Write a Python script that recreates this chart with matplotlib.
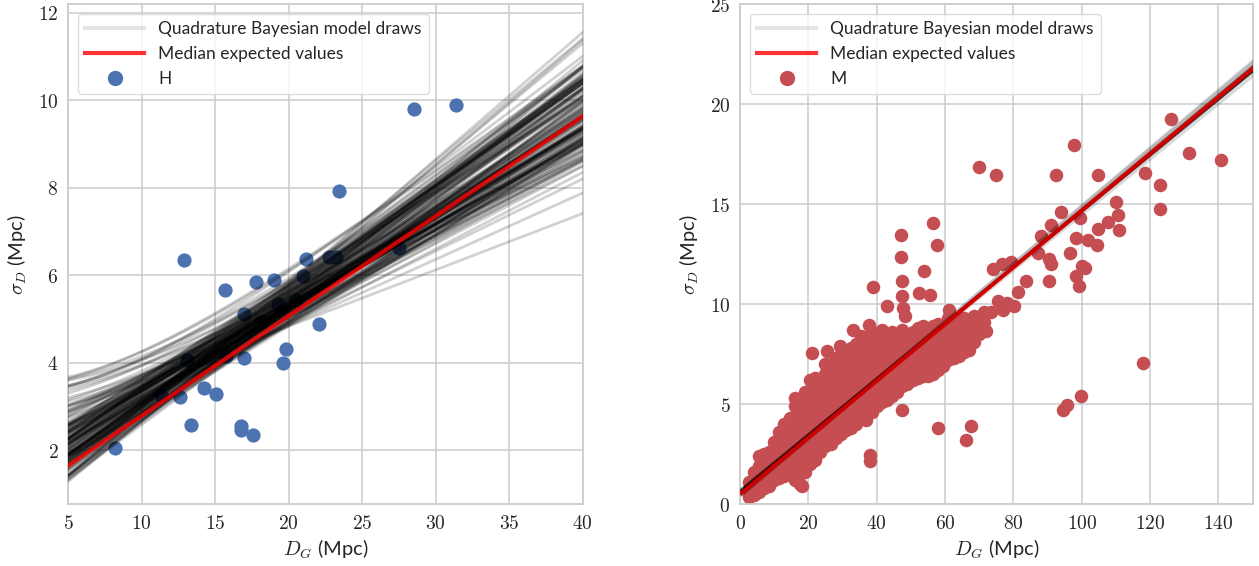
import numpy as np
import matplotlib
matplotlib.use("Agg")
import matplotlib.pyplot as plt
from matplotlib.ticker import FuncFormatter, MultipleLocator
from matplotlib.lines import Line2D

# ---------------- data: left panel (H) ----------------
h_dg = [8.2, 12.9, 13.1, 11.3, 12.6, 13.35, 14.25, 15.07, 15.7, 15.75, 16.75, 16.75,
        17.0, 17.0, 17.55, 17.8, 18.15, 19.0, 19.27, 19.6, 19.85, 20.5, 20.96, 21.2,
        22.1, 22.75, 23.25, 23.45, 27.5, 28.55, 31.4]
h_sigma = [2.05, 6.34, 4.05, 3.25, 3.22, 2.58, 3.42, 3.29, 5.65, 4.16, 2.56, 2.46,
           4.10, 5.12, 2.35, 5.85, 4.93, 5.88, 5.33, 3.99, 4.32, 5.44, 5.98, 6.38,
           4.89, 6.42, 6.41, 7.92, 6.63, 9.81, 9.90]

# model draws (left): sigma = sqrt(floor^2 + (level15 + slope*(D-15))^2)
h_draw_floor = ([0.0] * 133 +
                [3.4, 3.2, 3.0, 2.8, 3.5, 2.6, 2.4, 3.3, 2.2, 2.9, 3.1, 2.0, 2.7, 3.45,
                 3.3, 2.5, 3.0, 2.2, 3.45, 2.8, 2.3, 3.2])
h_draw_level15 = [4.13, 4.33, 3.87, 4.57, 4.07, 4.27, 4.41, 4.01, 4.17, 4.37, 3.93, 4.53, 4.25,
                  4.09, 4.31, 3.81, 4.67, 4.19, 4.03, 4.45, 4.15, 4.35, 3.89, 4.61, 4.23, 3.99,
                  4.39, 4.11, 4.29, 3.95, 4.49, 4.21, 4.05, 4.43, 4.17, 4.33, 3.85, 4.73, 4.27,
                  4.01, 4.37, 4.13, 4.25, 3.91, 4.55, 4.19, 4.07, 4.31, 3.97, 4.47, 4.15, 4.23,
                  4.35, 4.03, 4.29, 3.83, 4.59, 4.17, 4.41, 4.09, 4.25, 4.21, 3.97, 4.47,
                  4.05, 4.49, 3.81, 4.31, 4.13, 4.57, 3.99, 4.35, 4.19, 3.87, 4.45, 4.27, 4.09,
                  4.71, 3.95, 4.37, 4.21, 4.03, 4.53, 4.17, 4.29, 3.79, 4.63, 4.11, 4.41, 4.25,
                  3.97, 4.51, 4.15, 4.33, 3.89, 4.43, 4.23, 4.07, 4.59, 4.01, 4.35, 4.19, 3.93,
                  4.47, 4.29, 4.13, 4.69, 3.85, 4.39, 4.21, 4.05, 4.55, 4.17, 4.31, 3.99, 4.45,
                  4.25, 4.09, 4.37, 4.15, 4.39, 3.91, 4.65, 4.23,
                  4.185, 4.08, 4.075, 3.975, 4.25, 4.15, 4.30, 4.25, 4.35,
                  3.84, 3.775, 3.725, 3.72, 3.70, 3.73, 3.725, 3.75, 3.75, 3.35, 3.475, 3.925, 3.30, 3.50,
                  3.60, 3.90, 3.45, 4.00, 3.30, 3.55, 3.95, 3.40]
h_draw_slope = [0.222, 0.245, 0.205, 0.231, 0.214, 0.260, 0.196, 0.238, 0.219, 0.208, 0.251, 0.227,
                0.201, 0.266, 0.190, 0.224, 0.241, 0.211, 0.275, 0.182, 0.229, 0.248, 0.203, 0.234,
                0.216, 0.258, 0.186, 0.221, 0.253, 0.207, 0.236, 0.217, 0.262, 0.198, 0.226, 0.243,
                0.204, 0.230, 0.213, 0.270, 0.178, 0.220, 0.249, 0.209, 0.233, 0.223, 0.256, 0.193,
                0.228, 0.240, 0.215, 0.252, 0.200, 0.232, 0.225, 0.212, 0.246, 0.218, 0.280, 0.188,
                0.235, 0.206, 0.239, 0.221,
                0.222, 0.194, 0.247, 0.172, 0.211, 0.232, 0.184, 0.257, 0.200, 0.219, 0.177, 0.240,
                0.196, 0.214, 0.253, 0.188, 0.206, 0.227, 0.168, 0.244, 0.192, 0.209, 0.235, 0.181,
                0.216, 0.202, 0.263, 0.174, 0.224, 0.190, 0.212, 0.242, 0.179, 0.221, 0.198, 0.249,
                0.187, 0.207, 0.229, 0.170, 0.239, 0.195, 0.213, 0.246, 0.183, 0.204, 0.220, 0.165,
                0.256, 0.191, 0.210, 0.233, 0.176, 0.217, 0.199, 0.238, 0.185, 0.208, 0.225, 0.197,
                0.129, 0.152, 0.165, 0.175, 0.170, 0.180, 0.290, 0.285, 0.278,
                0.256, 0.245, 0.235, 0.228, 0.260, 0.222, 0.215, 0.270, 0.210, 0.200, 0.215, 0.225, 0.190, 0.240,
                0.250, 0.235, 0.260, 0.220, 0.230, 0.245, 0.200, 0.215]
h_median_intercept = 0.50
h_median_slope = 0.2283

# ---------------- data: right panel (M) ----------------
m_out_dg = [70.0, 74.8, 47.1, 47.1, 56.5, 57.5, 47.3, 53.8, 38.8, 52.5, 55.6, 47.3, 47.6, 48.3,
            42.9, 61.1, 97.7, 92.4, 104.8, 126.2, 131.5, 140.9, 118.5, 122.8, 122.8, 109.9,
            110.6, 110.9, 107.7, 104.8, 104.5, 101.8, 98.4, 99.4, 94.0, 96.5, 100.2, 98.4, 99.2,
            100.9, 90.4, 90.9, 90.4, 91.1, 88.2, 87.2, 83.8, 81.4, 79.4, 74.1, 76.8, 117.9, 99.9,
            94.5, 95.7, 58.0, 67.5, 66.1, 38.1, 38.1, 47.3, 72.1, 75.5, 78.0, 21.0, 25.4, 29.3,
            33.2, 37.6, 77.0, 73.5, 80.2, 18.1, 62.0]
m_out_sigma = [16.88, 16.44, 13.46, 12.34, 14.06, 12.95, 11.15, 11.64, 10.88, 10.57, 10.48, 10.40,
               9.82, 9.43, 9.90, 9.73, 17.96, 16.48, 16.44, 19.25, 17.58, 17.21, 16.54, 15.94,
               14.74, 15.11, 14.44, 13.69, 14.11, 13.77, 12.97, 13.20, 13.32, 14.32, 14.60, 12.54,
               11.90, 11.40, 10.90, 11.82, 12.24, 11.99, 11.15, 13.94, 13.40, 12.54, 11.15, 10.60,
               12.12, 11.74, 11.99, 7.06, 5.39, 4.72, 4.96, 3.82, 3.92, 3.19, 2.47, 2.14, 4.72,
               8.65, 10.15, 10.07, 7.57, 7.65, 7.90, 8.73, 8.98, 9.70, 9.60, 9.90, 0.93, 9.35]

m_cloud_dg = [2.5, 4, 5.5, 7, 8.5, 10, 11.5, 13, 14.5, 16, 17.5, 19, 20.5, 22, 23.5, 25, 26.5,
              28, 29.5, 31, 32.5, 34, 35.5, 37, 38.5, 40, 41.5, 43, 44.5, 46, 47.5, 49, 50.5,
              52, 53.5, 55, 56.5, 58, 59.5, 61, 62.5, 64, 65.5, 67, 68.5, 70, 71.5]
m_cloud_sigma = [
    [0.35, 0.7, 1.1],
    [0.45, 0.8, 1.2, 1.6],
    [0.6, 1.0, 1.4, 1.9, 2.4],
    [0.8, 1.2, 1.6, 2.0, 2.5],
    [0.9, 1.3, 1.7, 2.1, 2.6],
    [1.2, 1.6, 2.0, 2.4, 2.8, 3.1],
    [1.3, 1.7, 2.1, 2.5, 2.9, 3.3, 3.6],
    [1.4, 1.8, 2.2, 2.6, 3.0, 3.4, 3.8, 4.0],
    [1.5, 1.9, 2.3, 2.7, 3.1, 3.5, 3.9, 4.3],
    [1.2, 1.6, 2.0, 2.4, 2.8, 3.2, 3.6, 4.0, 4.4, 4.9, 5.3],
    [1.0, 1.5, 1.9, 2.3, 2.7, 3.1, 3.5, 3.9, 4.3, 4.7, 5.0],
    [1.6, 2.0, 2.4, 2.8, 3.2, 3.6, 4.0, 4.4, 4.8, 5.2, 5.6],
    [2.0, 2.4, 2.8, 3.2, 3.6, 4.0, 4.4, 4.8, 5.2, 5.6, 6.2],
    [2.2, 2.6, 3.0, 3.4, 3.8, 4.2, 4.6, 5.0, 5.4, 5.8, 6.3],
    [2.6, 3.0, 3.4, 3.8, 4.2, 4.6, 5.0, 5.4, 5.8, 6.2],
    [2.9, 3.3, 3.7, 4.1, 4.5, 4.9, 5.3, 5.7, 6.1, 6.5, 7.0],
    [3.0, 3.4, 3.8, 4.2, 4.6, 5.0, 5.4, 5.8, 6.2, 6.6, 7.0],
    [3.3, 3.7, 4.1, 4.5, 4.9, 5.3, 5.7, 6.1, 6.5, 6.9, 7.3],
    [3.5, 3.9, 4.3, 4.7, 5.1, 5.5, 5.9, 6.3, 6.7, 7.1, 7.5],
    [3.7, 4.1, 4.5, 4.9, 5.3, 5.7, 6.1, 6.5, 6.9, 7.3],
    [3.8, 4.2, 4.6, 5.0, 5.4, 5.8, 6.2, 6.6, 7.0, 7.4, 7.8],
    [4.0, 4.4, 4.8, 5.2, 5.6, 6.0, 6.4, 6.8, 7.2, 7.6, 8.0],
    [4.3, 4.7, 5.1, 5.5, 5.9, 6.3, 6.7, 7.1, 7.5, 7.9, 8.4],
    [4.2, 4.6, 5.0, 5.4, 5.8, 6.2, 6.6, 7.0, 7.4, 7.8, 8.2],
    [4.6, 5.0, 5.4, 5.8, 6.2, 6.6, 7.0, 7.4, 7.8, 8.2, 8.6],
    [4.9, 5.3, 5.7, 6.1, 6.5, 6.9, 7.3, 7.7, 8.1, 8.5],
    [5.1, 5.5, 5.9, 6.3, 6.7, 7.1, 7.5, 7.9, 8.3, 8.7],
    [5.2, 5.6, 6.0, 6.4, 6.8, 7.2, 7.6, 8.0, 8.4],
    [5.4, 5.8, 6.2, 6.6, 7.0, 7.4, 7.8, 8.2, 8.6],
    [5.6, 6.0, 6.4, 6.8, 7.2, 7.6, 8.0, 8.4],
    [5.9, 6.3, 6.7, 7.1, 7.5, 7.9, 8.3, 8.7],
    [6.0, 6.4, 6.8, 7.2, 7.6, 8.0, 8.4],
    [6.2, 6.6, 7.0, 7.4, 7.8, 8.2, 8.6],
    [6.3, 6.7, 7.1, 7.5, 7.9, 8.3, 8.8],
    [6.4, 6.8, 7.2, 7.6, 8.0, 8.4, 8.9],
    [6.4, 6.8, 7.2, 7.6, 8.0, 8.4, 8.6],
    [6.5, 6.9, 7.3, 7.7, 8.1, 8.5, 8.9],
    [6.7, 7.1, 7.5, 7.9, 8.3, 8.7, 9.0],
    [6.9, 7.3, 7.7, 8.1, 8.5, 8.8],
    [7.2, 7.6, 8.0, 8.4, 8.8, 9.3],
    [7.3, 7.7, 8.1, 8.5, 8.9, 9.2],
    [7.4, 7.8, 8.2, 8.6, 9.0],
    [7.6, 8.0, 8.4, 8.8, 9.3],
    [7.7, 8.1, 8.5, 8.9, 9.2],
    [8.1, 8.5, 8.9, 9.4],
    [8.5, 8.9, 9.3],
    [8.7, 9.1, 9.6],
]

# model draws (right): sigma = intercept + slope*D
m_draw_intercept = [0.55, 0.45, 0.65, 0.50, 0.60, 0.40, 0.70, 0.52, 0.58, 0.48, 0.62, 0.42, 0.68,
                    0.54, 0.56, 0.46, 0.64, 0.38, 0.72, 0.51, 0.59, 0.44, 0.66, 0.53, 0.57, 0.49,
                    0.61, 0.47, 0.63, 0.55]
m_draw_slope = [0.1412, 0.1425, 0.1400, 0.1418, 0.1405, 0.1432, 0.1395, 0.1415, 0.1408, 0.1422,
                0.1403, 0.1430, 0.1398, 0.1414, 0.1410, 0.1427, 0.1401, 0.1440, 0.1390, 0.1417,
                0.1407, 0.1428, 0.1399, 0.1420, 0.1404, 0.1445, 0.1385, 0.1423, 0.1402, 0.1435]
m_median_intercept = 0.50
m_median_slope = 0.1418

# ---------------- style ----------------
plt.rcParams['font.family'] = ['Lato', 'DejaVu Sans']
plt.rcParams['mathtext.fontset'] = 'cm'

BLUE = '#4C72B0'
RED = '#C44E52'
GRID = '#cccccc'

fig = plt.figure(figsize=(12.59, 5.66), dpi=100)
ax1 = fig.add_axes([0.0540, 0.1090, 0.4088, 0.8839])
ax2 = fig.add_axes([0.5878, 0.1090, 0.4071, 0.8839])

fmt = FuncFormatter(lambda v, p: f"${v:g}$")


def style(ax):
    ax.set_facecolor('white')
    ax.grid(True, color=GRID, lw=1.1)
    ax.set_axisbelow(True)
    for s in ax.spines.values():
        s.set_color(GRID)
        s.set_linewidth(1.3)
    ax.tick_params(length=0, labelsize=14, pad=7, colors='#262626')
    ax.xaxis.set_major_formatter(fmt)
    ax.yaxis.set_major_formatter(fmt)


def legend(ax, label, color):
    handles = [Line2D([], [], color='black', alpha=0.1, lw=3),
               Line2D([], [], color='red', alpha=0.8, lw=3),
               Line2D([], [], ls='none', marker='o', ms=10, color=color)]
    labels = ['Quadrature Bayesian model draws', 'Median expected values', label]
    leg = ax.legend(handles, labels, loc='upper left', fontsize=12.5, handlelength=3.4,
                    handletextpad=0.8, borderaxespad=0.6, labelspacing=0.5,
                    frameon=True, fancybox=True, framealpha=0.8, edgecolor='#d5d5d5')
    for t in leg.get_texts():
        t.set_color('#262626')


# ---- left panel ----
style(ax1)
ax1.scatter(h_dg, h_sigma, s=105, color=BLUE, linewidths=0, zorder=2)
xl = np.linspace(5, 40, 200)
for fl, lv, sl in zip(h_draw_floor, h_draw_level15, h_draw_slope):
    ax1.plot(xl, np.sqrt(fl ** 2 + (lv + sl * (xl - 15)) ** 2), color='black', alpha=0.18, lw=2, zorder=3)
ax1.plot(xl, h_median_intercept + h_median_slope * xl, color='red', alpha=0.8, lw=3, zorder=4)
ax1.set_xlim(5, 40)
ax1.set_ylim(0.76, 12.2)
ax1.xaxis.set_major_locator(MultipleLocator(5))
ax1.yaxis.set_major_locator(MultipleLocator(2))
ax1.set_xlabel(r'$D_G$ (Mpc)', fontsize=14.5, color='#262626', labelpad=4)
ax1.set_ylabel(r'$\sigma_D$ (Mpc)', fontsize=14.5, color='#262626', labelpad=6)
legend(ax1, 'H', BLUE)

# ---- right panel ----
style(ax2)
cx = [x for x, col in zip(m_cloud_dg, m_cloud_sigma) for _ in col]
cy = [y for col in m_cloud_sigma for y in col]
ax2.scatter(cx + m_out_dg, cy + m_out_sigma, s=95, color=RED, linewidths=0, zorder=2)
xr = np.linspace(0.5, 150, 200)
for c, m in zip(m_draw_intercept, m_draw_slope):
    ax2.plot(xr, c + m * xr, color='black', alpha=0.15, lw=2, zorder=3)
ax2.plot(xr, m_median_intercept + m_median_slope * xr, color='red', alpha=0.8, lw=3, zorder=4)
ax2.set_xlim(0, 150)
ax2.set_ylim(0, 25)
ax2.xaxis.set_major_locator(MultipleLocator(20))
ax2.yaxis.set_major_locator(MultipleLocator(5))
ax2.set_xlabel(r'$D_G$ (Mpc)', fontsize=14.5, color='#262626', labelpad=4)
ax2.set_ylabel(r'$\sigma_D$ (Mpc)', fontsize=14.5, color='#262626', labelpad=6)
legend(ax2, 'M', RED)

fig.savefig('out.png', dpi=100)
